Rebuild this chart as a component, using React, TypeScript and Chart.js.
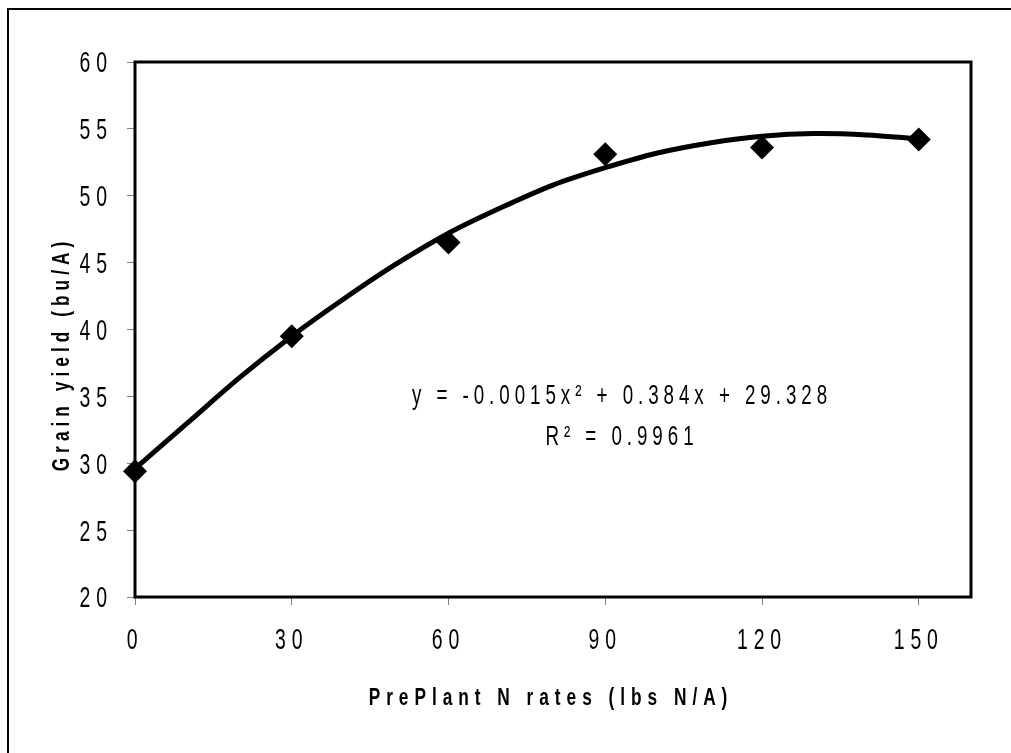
import React, { useEffect, useRef } from "react";
import { Chart, registerables } from "chart.js";

Chart.register(...registerables);

// ---- data ----
const nRates = [0, 30, 60, 90, 120, 150];
const grainYield = [29.4, 39.5, 46.5, 53.1, 53.6, 54.2];

const trendRates = [0, 10, 20, 30, 40, 50, 60, 70, 80, 90, 100, 110, 120, 130, 140, 150];
const trendYield = [29.6, 33.0, 36.4, 39.5, 42.3, 44.9, 47.2, 49.1, 50.8, 52.1, 53.2, 53.95, 54.45, 54.65, 54.55, 54.25];

const xTickValues = [0, 30, 60, 90, 120, 150];
const yTickValues = [20, 25, 30, 35, 40, 45, 50, 55, 60];

const xTitle = "PrePlant N rates (lbs N/A)";
const yTitle = "Grain yield (bu/A)";
const equationLine1 = "y = -0.0015x² + 0.384x + 29.328";
const equationLine2 = "R² = 0.9961";

const FONT = "'Liberation Sans', Arial, 'DejaVu Sans', sans-serif";

function drawStretched(
  ctx: CanvasRenderingContext2D,
  text: string,
  x: number,
  y: number,
  font: string,
  sx: number,
  spacing: number,
  align: CanvasTextAlign,
  rot = 0
) {
  ctx.save();
  ctx.translate(x, y);
  if (rot) ctx.rotate(rot);
  ctx.scale(sx, 1);
  ctx.font = font;
  (ctx as any).letterSpacing = spacing + "px";
  ctx.textAlign = align;
  ctx.textBaseline = "alphabetic";
  ctx.fillStyle = "#000";
  ctx.fillText(text, 0, 0);
  ctx.restore();
}

const textPlugin = {
  id: "excelText",
  beforeDatasetsDraw(chart: any) {
    const { ctx, chartArea } = chart;
    ctx.save();
    ctx.strokeStyle = "#000";
    ctx.lineWidth = 3;
    ctx.strokeRect(
      chartArea.left,
      chartArea.top,
      chartArea.right - chartArea.left,
      chartArea.bottom - chartArea.top
    );
    ctx.restore();
  },
  afterDraw(chart: any) {
    const { ctx, scales } = chart;
    const xs = scales.x;
    const ys = scales.y;
    const tickFont = "29px " + FONT;
    const sx = 0.67;
    const sp = 8.8;
    yTickValues.forEach((v) => {
      const py = ys.getPixelForValue(v);
      drawStretched(ctx, String(v), 113, py + 10.4, tickFont, sx, sp, "right");
    });
    xTickValues.forEach((v) => {
      const px = xs.getPixelForValue(v);
      drawStretched(ctx, String(v), px, 649, tickFont, sx, sp, "center");
    });
    const titleFont = "bold 24px " + FONT;
    drawStretched(ctx, xTitle, 551, 705, titleFont, 0.72, 8.3, "center");
    drawStretched(ctx, yTitle, 69, 354, titleFont, 0.72, 7.0, "center", -Math.PI / 2);
    const eqFont = "28px " + FONT;
    drawStretched(ctx, equationLine1, 622, 404, eqFont, 0.67, 7.4, "center");
    drawStretched(ctx, equationLine2, 622, 445, eqFont, 0.67, 7.4, "center");
  },
};

export default function App() {
  const canvasRef = useRef<HTMLCanvasElement | null>(null);

  useEffect(() => {
    const canvas = canvasRef.current;
    if (!canvas) return;
    const chart = new Chart(canvas, {
      type: "scatter",
      data: {
        datasets: [
          {
            label: "Trend",
            data: trendRates.map((x, i) => ({ x, y: trendYield[i] })),
            showLine: true,
            borderColor: "#000",
            borderWidth: 5,
            pointRadius: 0,
            tension: 0.3,
            borderJoinStyle: "round",
            clip: false as any,
            order: 2,
          } as any,
          {
            label: "Yield",
            data: nRates.map((x, i) => ({ x, y: grainYield[i] })),
            showLine: false,
            pointStyle: "rectRot",
            pointRadius: 12,
            backgroundColor: "#000",
            borderColor: "#000",
            borderWidth: 0,
            clip: false as any,
            order: 1,
          } as any,
        ],
      },
      options: {
        animation: false,
        responsive: false,
        devicePixelRatio: 1,
        events: [],
        layout: { padding: { left: 127, top: 62, right: 40, bottom: 148 } },
        plugins: { legend: { display: false }, tooltip: { enabled: false } },
        scales: {
          x: {
            type: "linear",
            min: 0,
            max: 160,
            afterBuildTicks: (s: any) => {
              s.ticks = xTickValues.map((v) => ({ value: v }));
            },
            afterFit: (s: any) => {
              s.height = 8;
            },
            ticks: { display: false },
            grid: { drawOnChartArea: false, drawTicks: true, tickLength: 8, color: "#808080", lineWidth: 1 },
            border: { display: false },
          },
          y: {
            type: "linear",
            min: 20,
            max: 60,
            afterBuildTicks: (s: any) => {
              s.ticks = yTickValues.map((v) => ({ value: v }));
            },
            afterFit: (s: any) => {
              s.width = 8;
            },
            ticks: { display: false },
            grid: { drawOnChartArea: false, drawTicks: true, tickLength: 8, color: "#808080", lineWidth: 1 },
            border: { display: false },
          },
        },
      },
      plugins: [textPlugin],
    });
    return () => chart.destroy();
  }, []);

  return (
    <div>
      <div
        style={{
          position: "fixed",
          left: 7,
          top: 8,
          width: 1004,
          height: 745,
          borderLeft: "2px solid #000",
          borderTop: "2px solid #000",
          boxSizing: "border-box",
        }}
      />
      <canvas
        ref={canvasRef}
        width={1011}
        height={753}
        style={{ position: "fixed", left: 0, top: 0, width: 1011, height: 753 }}
      />
    </div>
  );
}
